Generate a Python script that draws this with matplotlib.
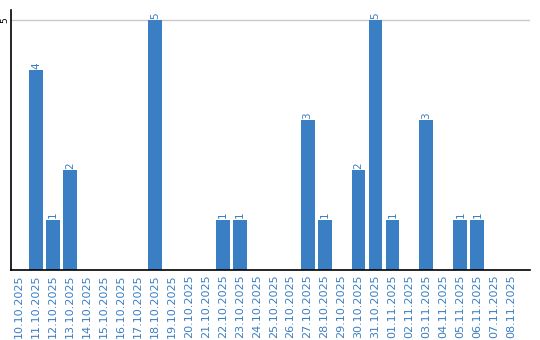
import numpy as np
import matplotlib.pyplot as plt

# Даты и значения
dates = ['10.10.2025', '11.10.2025', '12.10.2025', '13.10.2025', '14.10.2025',
         '15.10.2025', '16.10.2025', '17.10.2025', '18.10.2025', '19.10.2025',
         '20.10.2025', '21.10.2025', '22.10.2025', '23.10.2025', '24.10.2025',
         '25.10.2025', '26.10.2025', '27.10.2025', '28.10.2025', '29.10.2025',
         '30.10.2025', '31.10.2025', '01.11.2025', '02.11.2025', '03.11.2025',
         '04.11.2025', '05.11.2025', '06.11.2025', '07.11.2025', '08.11.2025']
values = [0, 4, 1, 2, 0, 0, 0, 0, 5, 0,
          0, 0, 1, 1, 0, 0, 0, 3, 1, 0,
          2, 5, 1, 0, 3, 0, 1, 1, 0, 0]

blue = '#3a7ec3'

fig = plt.figure(figsize=(5.4, 3.4), dpi=100)
ax = fig.add_axes([10.5 / 540, 70 / 340, 519.5 / 540, 260 / 340])

x = np.arange(len(dates))
ax.bar(x, values, width=0.82, color=blue, zorder=2)

# Подписи значений над столбцами
for xi, v in zip(x, values):
    if v > 0:
        ax.text(xi, v + 0.03, str(v), rotation=90, ha='center', va='bottom',
                color=blue, fontsize=7.5)

ax.set_xlim(-0.5, 30.1)
ax.set_ylim(0, 5.2)
ax.set_xticks(x)
ax.set_xticklabels(dates, rotation=90, color=blue, fontsize=8)
ax.tick_params(axis='x', length=0, pad=3)
ax.set_yticks([5])
ax.set_yticklabels(['5'], rotation=90, fontsize=6.5, va='center')
ax.tick_params(axis='y', length=0, pad=1)
ax.grid(axis='y', color='#c8c8c8', linewidth=1, zorder=0)

for s in ['top', 'right']:
    ax.spines[s].set_visible(False)
ax.spines['left'].set_linewidth(1.2)
ax.spines['bottom'].set_linewidth(1.2)

fig.savefig('out.png', dpi=100)
